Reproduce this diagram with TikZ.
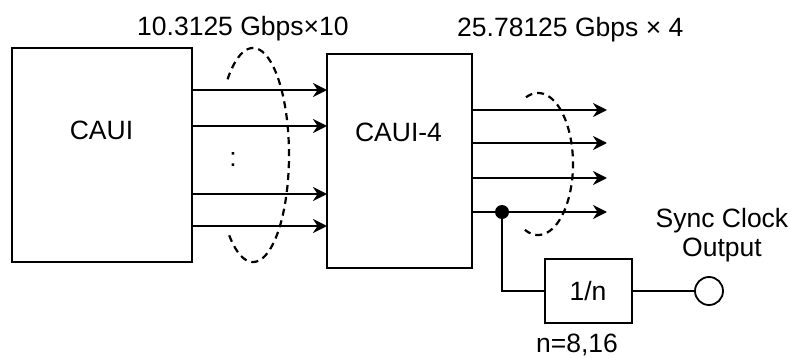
\documentclass[tikz,border=0pt]{standalone}
\usepackage{fontspec}
\setmainfont{Liberation Sans}
\usetikzlibrary{arrows.meta}
\begin{document}
\begin{tikzpicture}[x=1pt,y=-1pt,
  box/.style={draw,line width=2.2pt,inner sep=0pt,outer sep=0pt},
  smallbox/.style={draw,line width=1.6pt,inner sep=0pt,outer sep=0pt,minimum width=87pt,minimum height=64pt},
  lbl/.style={inner sep=0pt,anchor=base,font=\fontsize{26.5}{31}\selectfont},
  sig/.style={line width=2.2pt,-{Stealth[length=14pt,width=14pt,inset=4.5pt]}},
  wire/.style={line width=2.2pt},
  grp/.style={line width=2.2pt,dash pattern=on 7pt off 5pt},
  tapdot/.style={circle,fill,inner sep=0pt,minimum size=14pt},
  term/.style={circle,draw,line width=1.8pt,inner sep=0pt,minimum size=28pt,fill=white}]
\useasboundingbox (0,0) rectangle (790,358);
% boxes
\node[box,minimum width=180pt,minimum height=214pt] (caui) at (102,155) {};
\node[box,minimum width=145pt,minimum height=214pt] (caui4) at (399.5,161) {};
\node[lbl] (cauilbl) at (101.5,140) {CAUI};
\node[lbl] (caui4lbl) at (398.5,142) {CAUI-4};
% top labels
\node[lbl,anchor=base west] (rate1) at (137,36) {10.3125 Gbps×10};
\node[lbl,anchor=base west] (rate2) at (457,37) {25.78125 Gbps × 4};
% dots
\node[lbl] (dots) at (233,167) {:};
% left lanes
\foreach \y in {90,126,194,226}{
  \draw[sig] (caui.east |- 0,\y) -- (caui4.west |- 0,\y);
}
% right lanes
\coordinate (o1) at (607,110);
\coordinate (o2) at (607,143);
\coordinate (o3) at (607,178);
\coordinate (o4) at (607,212);
\foreach \o in {o1,o2,o3,o4}{
  \draw[sig] (caui4.east |- \o) -- (\o);
}
% group ellipses (open on the left where the lanes pass)
\draw[grp] plot[domain=-135:133,samples=120,smooth] ({253+36*cos(\x)},{155+107*sin(\x)});
\draw[grp] plot[domain=-110:112,samples=100,smooth] ({538+35*cos(\x)},{164+71*sin(\x)});
% clock tap
\node[tapdot] (tap) at (502,212) {};
\node[smallbox] (div) at (588.5,291) {};
\node[lbl] (divlbl) at (588,300) {1/n};
\node[term] (clk) at (709,291) {};
\draw[wire] (tap.center) |- (div.west);
\draw[wire] (div.east) -- (clk.west);
\node[lbl] (sync1) at (722,228) {Sync Clock};
\node[lbl] (sync2) at (722,257) {Output};
\node[lbl] (nval) at (577,352) {n=8,16};
\end{tikzpicture}
\end{document}
